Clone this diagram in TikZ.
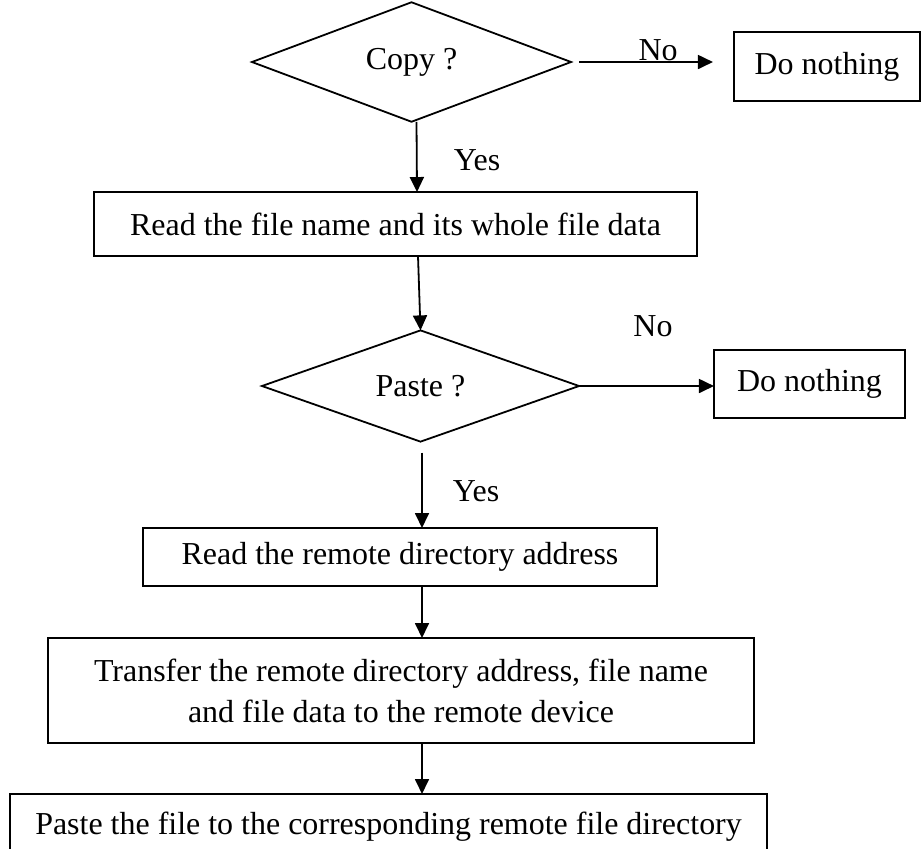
\documentclass[tikz,border=0pt]{standalone}
\usepackage{fontspec}
\setmainfont{Liberation Serif}
\usetikzlibrary{shapes.geometric,arrows.meta,calc}
\begin{document}
\begin{tikzpicture}[x=0.0176cm,y=-0.0176cm,
  font=\fontsize{16}{20.5}\selectfont, line width=0.9pt,
  decision/.style={draw,diamond,inner sep=0pt,outer sep=0pt},
  stepbox/.style={draw,rectangle,inner sep=0pt,outer sep=0pt,align=center},
  arr/.style={-{Triangle[length=7.5pt,width=7pt]}},
  lbl/.style={inner sep=0pt}]
\useasboundingbox (0,0) rectangle (922,848);
% decisions
\node[decision,minimum width=5.614cm,minimum height=1.830cm] (copyq) at (411.5,62) {Copy ?};
\node[decision,minimum width=5.579cm,minimum height=1.830cm] (pasteq) at (420.5,386) {Paste ?};
% boxes
\node[stepbox,minimum width=3.274cm,minimum height=1.214cm] (nothing1) at (827,66.5) {Do nothing};
\node[stepbox,minimum width=3.362cm,minimum height=1.197cm] (nothing2) at (809.5,384) {Do nothing};
\node[stepbox,minimum width=10.613cm,minimum height=1.126cm] (readfile) at (395.5,224) {Read the file name and its whole file data};
\node[stepbox,minimum width=9.046cm,minimum height=1.021cm] (remote) at (400,557) {Read the remote directory address};
\node[stepbox,minimum width=12.426cm,minimum height=1.848cm] (transfer) at (401,690.5) {Transfer the remote directory address, file name\\and file data to the remote device};
\node[stepbox,minimum width=13.323cm,minimum height=1.162cm] (pastefile) at (388.5,827) {Paste the file to the corresponding remote file directory};
% arrows
\draw[arr] ($(copyq.east)+(8,0)$) -- node[lbl,above,pos=0.59] (no1) {No} ($(copyq.east -| nothing1.west)+(-21,0)$);
\draw[arr] ($(copyq.south)+(5,0)$) -- ($(readfile.north)+(21.5,0)$);
\draw[arr] ($(readfile.south)+(22.5,0)$) -- (pasteq.north);
\draw[arr] (pasteq.east) -- (pasteq.east -| nothing2.west);
\draw[arr] ($(pasteq.south)+(1.5,11)$) -- ($(remote.north)+(22,0)$);
\draw[arr] ($(remote.south)+(22,0)$) -- ($(transfer.north)+(21,0)$);
\draw[arr] ($(transfer.south)+(21,0)$) -- ($(pastefile.north)+(33.5,0)$);
% labels
\node[lbl] (yes1) at (477,160) {Yes};
\node[lbl] (no2) at (653,326) {No};
\node[lbl] (yes2) at (476,491) {Yes};
\end{tikzpicture}
\end{document}
